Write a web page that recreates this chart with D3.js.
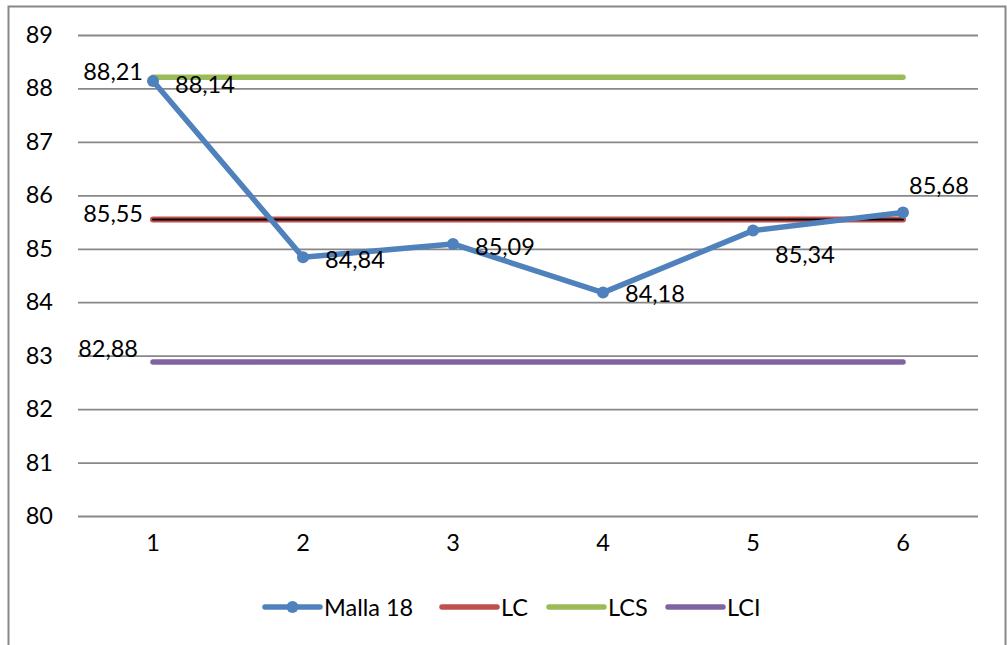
<!DOCTYPE html>
<html>
<head>
<meta charset="utf-8">
<script src="https://cdn.jsdelivr.net/npm/d3@7"></script>
<style>
  html, body { margin: 0; padding: 0; background: #fff; }
  svg { display: block; font-family: Lato, "Open Sans", sans-serif; }
</style>
</head>
<body>
<svg id="chart" width="1007" height="645"></svg>
<script>
// Control chart data: sample means per run and the control limits
const categories = ["1", "2", "3", "4", "5", "6"];
const mallaValues = [88.14, 84.84, 85.09, 84.18, 85.34, 85.68];
const lcValue = 85.55;   // central line
const lcsValue = 88.21;  // upper control limit
const lciValue = 82.88;  // lower control limit
const yTicks = [80, 81, 82, 83, 84, 85, 86, 87, 88, 89];

const colors = { malla: "#4F81BD", lc: "#C0504D", lcs: "#9BBB59", lci: "#8064A2", grid: "#888888" };
const fontSize = "23.5px";

const svg = d3.select("#chart");
const plot = { left: 78, right: 978, top: 35, bottom: 516 };

const fmt = v => d3.format(".2f")(v).replace(".", ",");

const x = d3.scaleBand().domain(categories).range([plot.left, plot.right]);
const cx = c => x(c) + x.bandwidth() / 2;
const y = d3.scaleLinear().domain([80, 89]).range([plot.bottom, plot.top]);

// outer frame
svg.append("rect")
  .attr("x", 8.5).attr("y", 6.5).attr("width", 997).attr("height", 650)
  .attr("fill", "none").attr("stroke", "#888").attr("stroke-width", 2);

// horizontal gridlines
const yAxis = d3.axisLeft(y).tickValues(yTicks).tickSize(-(plot.right - plot.left)).tickFormat(d3.format("d"));
const gy = svg.append("g").attr("transform", `translate(${plot.left},0)`).call(yAxis);
gy.select(".domain").remove();
gy.selectAll(".tick line").attr("stroke", colors.grid).attr("stroke-width", 1.8);
gy.selectAll(".tick text")
  .attr("x", -25).attr("fill", "#000")
  .style("font-size", fontSize).style("font-family", "Lato, sans-serif");

// category axis labels
const xAxis = d3.axisBottom(x).tickSize(0).tickPadding(0);
const gx = svg.append("g").attr("transform", `translate(0,${plot.bottom})`).call(xAxis);
gx.select(".domain").remove();
gx.selectAll(".tick text")
  .attr("y", 35).attr("dy", "0").attr("fill", "#000")
  .style("font-size", fontSize).style("font-family", "Lato, sans-serif");

// horizontal limit lines spanning categories 1..6
const first = categories[0], last = categories[categories.length - 1];
function hline(v, color, w) {
  svg.append("line")
    .attr("x1", cx(first)).attr("x2", cx(last))
    .attr("y1", y(v)).attr("y2", y(v))
    .attr("stroke", color).attr("stroke-width", w).attr("stroke-linecap", "round");
}
hline(lcsValue, colors.lcs, 5.5);
hline(lciValue, colors.lci, 5.5);
hline(lcValue, colors.lc, 6);
hline(lcValue, "#000", 2);

// series line with markers
const line = d3.line().x((d, i) => cx(categories[i])).y(d => y(d));
svg.append("path").datum(mallaValues)
  .attr("d", line).attr("fill", "none")
  .attr("stroke", colors.malla).attr("stroke-width", 5.5)
  .attr("stroke-linejoin", "round").attr("stroke-linecap", "round");
svg.selectAll("circle.pt").data(mallaValues).enter().append("circle")
  .attr("class", "pt")
  .attr("cx", (d, i) => cx(categories[i])).attr("cy", d => y(d))
  .attr("r", 6).attr("fill", colors.malla);

// data labels
const labelStyle = sel => sel.attr("fill", "#000").style("font-size", fontSize).style("font-family", "Lato, sans-serif");
const mallaOffsets = [
  { dx: 22, dy: 3 },
  { dx: 22, dy: 2 },
  { dx: 22, dy: 2 },
  { dx: 22, dy: 0 },
  { dx: 22, dy: 23 },
  { dx: 6, dy: -27 }
];
svg.selectAll("text.lbl").data(mallaValues).enter().append("text")
  .attr("class", "lbl")
  .attr("x", (d, i) => cx(categories[i]) + mallaOffsets[i].dx)
  .attr("y", (d, i) => y(d) + mallaOffsets[i].dy)
  .attr("dominant-baseline", "central")
  .attr("text-anchor", "start")
  .text(d => fmt(d))
  .call(labelStyle);

function limitLabel(v, dx, dy) {
  svg.append("text")
    .attr("x", cx(first) + dx).attr("y", y(v) + dy)
    .attr("dominant-baseline", "central").attr("text-anchor", "end")
    .text(fmt(v)).call(labelStyle);
}
limitLabel(lcsValue, -10, -6);
limitLabel(lcValue, -10, -6);
limitLabel(lciValue, -15, -14);

// legend
const legendItems = [
  { name: "Malla 18", color: colors.malla, marker: true, x: 265 },
  { name: "LC", color: colors.lc, marker: false, x: 442 },
  { name: "LCS", color: colors.lcs, marker: false, x: 549 },
  { name: "LCI", color: colors.lci, marker: false, x: 668 }
];
const ly = 607;
const lg = svg.append("g");
legendItems.forEach(it => {
  lg.append("line")
    .attr("x1", it.x).attr("x2", it.x + 55).attr("y1", ly).attr("y2", ly)
    .attr("stroke", it.color).attr("stroke-width", 5.5).attr("stroke-linecap", "round");
  if (it.marker) {
    lg.append("circle").attr("cx", it.x + 27.5).attr("cy", ly).attr("r", 6).attr("fill", it.color);
  }
  lg.append("text")
    .attr("x", it.x + 59).attr("y", ly)
    .attr("dominant-baseline", "central")
    .text(it.name).call(labelStyle);
});
</script>
</body>
</html>
